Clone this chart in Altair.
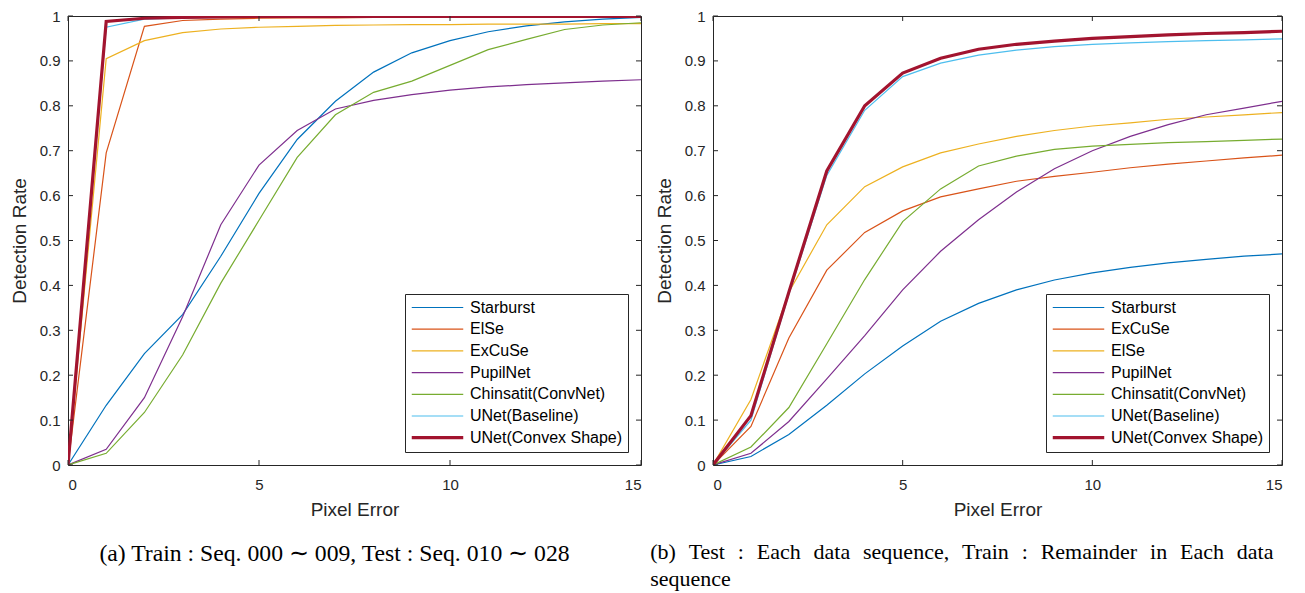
import altair as alt
import pandas as pd

x_vals = list(range(16))

# Panel (a)
a_names = ["Starburst", "ElSe", "ExCuSe", "PupilNet", "Chinsatit(ConvNet)", "UNet(Baseline)", "UNet(Convex Shape)"]
a_starburst = [0, 0.133, 0.248, 0.335, 0.465, 0.605, 0.725, 0.81, 0.875, 0.918, 0.945, 0.965, 0.978, 0.987, 0.993, 0.997]
a_else = [0, 0.695, 0.977, 0.99, 0.993, 0.995, 0.996, 0.996, 0.997, 0.997, 0.997, 0.997, 0.998, 0.998, 0.998, 0.998]
a_excuse = [0, 0.905, 0.945, 0.963, 0.971, 0.975, 0.977, 0.979, 0.98, 0.981, 0.981, 0.982, 0.982, 0.982, 0.983, 0.983]
a_pupilnet = [0, 0.035, 0.15, 0.33, 0.535, 0.668, 0.745, 0.793, 0.812, 0.825, 0.835, 0.842, 0.847, 0.851, 0.855, 0.858]
a_chinsatit = [0, 0.026, 0.117, 0.245, 0.405, 0.545, 0.685, 0.78, 0.83, 0.855, 0.89, 0.925, 0.948, 0.97, 0.98, 0.985]
a_unet = [0, 0.975, 0.993, 0.996, 0.997, 0.998, 0.998, 0.998, 0.998, 0.998, 0.998, 0.998, 0.998, 0.998, 0.998, 0.998]
a_convex = [0, 0.988, 0.995, 0.997, 0.998, 0.999, 0.999, 0.999, 0.999, 0.999, 0.999, 0.999, 0.999, 0.999, 0.999, 0.999]
a_series = [a_starburst, a_else, a_excuse, a_pupilnet, a_chinsatit, a_unet, a_convex]

# Panel (b)
b_names = ["Starburst", "ExCuSe", "ElSe", "PupilNet", "Chinsatit(ConvNet)", "UNet(Baseline)", "UNet(Convex Shape)"]
b_starburst = [0, 0.019, 0.068, 0.133, 0.203, 0.265, 0.32, 0.36, 0.39, 0.412, 0.428, 0.44, 0.45, 0.458, 0.465, 0.47]
b_excuse = [0, 0.086, 0.283, 0.434, 0.518, 0.566, 0.597, 0.615, 0.632, 0.643, 0.652, 0.662, 0.67, 0.677, 0.684, 0.69]
b_else = [0, 0.146, 0.385, 0.535, 0.62, 0.664, 0.695, 0.715, 0.732, 0.745, 0.755, 0.762, 0.77, 0.775, 0.78, 0.785]
b_pupilnet = [0, 0.026, 0.097, 0.192, 0.288, 0.39, 0.476, 0.546, 0.608, 0.66, 0.70, 0.732, 0.758, 0.78, 0.795, 0.81]
b_chinsatit = [0, 0.04, 0.128, 0.27, 0.413, 0.542, 0.615, 0.666, 0.688, 0.703, 0.71, 0.714, 0.718, 0.72, 0.723, 0.726]
b_unet = [0, 0.1, 0.38, 0.645, 0.79, 0.865, 0.895, 0.913, 0.924, 0.932, 0.937, 0.94, 0.943, 0.945, 0.947, 0.949]
b_convex = [0, 0.11, 0.385, 0.655, 0.8, 0.873, 0.906, 0.926, 0.937, 0.944, 0.95, 0.954, 0.958, 0.961, 0.963, 0.966]
b_series = [b_starburst, b_excuse, b_else, b_pupilnet, b_chinsatit, b_unet, b_convex]

colors = ["#0072BD", "#D95319", "#EDB120", "#7E2F8E", "#77AC30", "#4DBEEE", "#A2142F"]
widths = [1.2, 1.2, 1.2, 1.2, 1.2, 1.2, 3.2]

x_ticks = [0, 5, 10, 15]
y_ticks = [0, 0.1, 0.2, 0.3, 0.4, 0.5, 0.6, 0.7, 0.8, 0.9, 1]

caption_a = "(a) Train : Seq. 000 \u223c 009, Test : Seq. 010 \u223c 028"
GAP = " \u00a0\u200a"
caption_b = [GAP.join(["(b)", "Test", ":", "Each", "data", "sequence,", "Train", ":", "Remainder", "in", "Each", "data"]),
             "sequence"]

FRAME = "#262626"
SANS = "Liberation Sans"
SERIF = "Liberation Serif"


def long_df(names, series):
    rows = []
    for n, s in zip(names, series):
        for xv, yv in zip(x_vals, s):
            rows.append({"x": xv, "y": yv, "method": n})
    return pd.DataFrame(rows)


def panel(names, series, w, h, caption, cap_anchor, cap_size, cap_dx):
    df = long_df(names, series)
    xs = alt.Scale(domain=[0, 15], nice=False)
    ys = alt.Scale(domain=[0, 1], nice=False)
    leg = alt.Legend(title=None, orient="bottom-right", offset=13)
    lines = alt.Chart(df).mark_line(clip=True).encode(
        x=alt.X("x:Q", scale=xs, title="Pixel Error",
                axis=alt.Axis(values=x_ticks, ticks=False, domain=False, grid=False,
                              labelPadding=12, titlePadding=8)),
        y=alt.Y("y:Q", scale=ys, title="Detection Rate",
                axis=alt.Axis(values=y_ticks, format="~g", ticks=False, domain=False, grid=False,
                              labelPadding=8, titlePadding=10)),
        color=alt.Color("method:O", scale=alt.Scale(type="ordinal", domain=names, range=colors), legend=leg),
        strokeWidth=alt.StrokeWidth("method:O", scale=alt.Scale(type="ordinal", domain=names, range=widths),
                                    legend=leg),
        order=alt.Order("x:Q"),
    )
    xt = pd.DataFrame({"x": x_ticks})
    yt = pd.DataFrame({"y": y_ticks})
    xb = alt.Chart(xt).mark_rule(color=FRAME, strokeWidth=1).encode(
        x="x:Q", y=alt.value(h - 5), y2=alt.value(h))
    xtop = alt.Chart(xt).mark_rule(color=FRAME, strokeWidth=1).encode(
        x="x:Q", y=alt.value(0), y2=alt.value(5))
    yl = alt.Chart(yt).mark_rule(color=FRAME, strokeWidth=1).encode(
        y="y:Q", x=alt.value(0), x2=alt.value(5))
    yr = alt.Chart(yt).mark_rule(color=FRAME, strokeWidth=1).encode(
        y="y:Q", x=alt.value(w - 5), x2=alt.value(w))
    is_mid = cap_anchor == "middle"
    title = alt.TitleParams(caption, orient="bottom", anchor=cap_anchor, frame="group" if is_mid else "bounds",
                            font=SERIF, fontSize=cap_size, fontWeight="normal", color="black",
                            offset=23, lineHeight=27, align="center" if is_mid else "left", dx=cap_dx)
    return alt.layer(lines, xb, xtop, yl, yr).properties(width=w, height=h, title=title)


left = panel(a_names, a_series, 573, 449, caption_a, "middle", 23.7, -20)
right = panel(b_names, b_series, 569, 449, caption_b, "start", 22, -5)

chart = alt.hconcat(left, right, spacing=7).resolve_scale(
    color="independent", strokeWidth="independent", x="independent", y="independent"
).resolve_legend(color="independent", strokeWidth="independent").properties(
    padding={"left": 1, "top": 0, "right": 0, "bottom": 0}
).configure_view(stroke=FRAME, strokeWidth=1).configure_axis(
    labelFont=SANS, labelFontSize=15, labelColor=FRAME,
    titleFont=SANS, titleFontSize=19, titleFontWeight="normal", titleColor=FRAME,
).configure_legend(
    labelFont=SANS, labelFontSize=16, labelColor="black",
    strokeColor=FRAME, fillColor="white", padding=5, symbolType="stroke",
    symbolSize=2650, clipHeight=17, rowPadding=4.7, labelOffset=5, cornerRadius=0,
)

chart.save("out.html", embed_options={"renderer": "svg", "actions": False})
